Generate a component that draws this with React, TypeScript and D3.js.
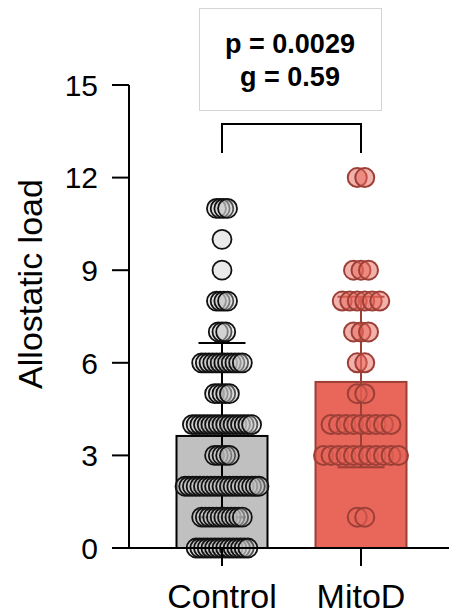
import React from "react";
import * as d3 from "d3";

const groups = ["Control", "MitoD"];
const scoreLevels = [0, 1, 2, 3, 4, 5, 6, 7, 8, 9, 10, 11, 12];
const controlCounts = [15, 12, 21, 5, 17, 5, 12, 3, 4, 1, 1, 4, 0];
const mitoDCounts = [0, 2, 0, 11, 9, 2, 2, 3, 6, 3, 0, 0, 2];
const groupMeans = [3.63, 5.38];
const upperErrors = [3.01, 2.76];
const lowerErrors = [2.63, 2.76];
const yTicks = [0, 3, 6, 9, 12, 15];
const statLines = ["p = 0.0029", "g = 0.59"];

const W = 449;
const H = 614;
const FONT = "'Liberation Sans', Arial, Helvetica, sans-serif";

const styles = [
  { barFill: "#c0c0c0", barStroke: "#000000", dotFill: "rgba(196,196,196,0.36)", dotStroke: "#111111", dotSW: 1.8, err: "#000000", spacing: 3.7 },
  { barFill: "#e8665a", barStroke: "#9c3f37", dotFill: "rgba(232,100,88,0.5)", dotStroke: "#9c3f37", dotSW: 2, err: "#9c3f37", spacing: 7.5 },
];

export default function App() {
  const y = d3.scaleLinear().domain([0, 15]).range([548, 85]);
  const x = d3.scalePoint<string>().domain(groups).range([222, 361]);
  const axisX = 129;
  const barW = 91;
  const capW = 47;
  const r = 9.5;
  const countsByGroup = [controlCounts, mitoDCounts];

  return (
    <svg width={W} height={H} style={{ position: "absolute", left: 0, top: 0 }} fontFamily={FONT}>
      <rect x={0} y={0} width={W} height={H} fill="#ffffff" />
      {/* stat box */}
      <rect x={199.5} y={8.5} width={182} height={102} fill="#ffffff" stroke="#d4d4d4" strokeWidth={1} />
      {statLines.map((t, i) => (
        <text key={t} x={290} y={53 + i * 33} textAnchor="middle" fontSize={27} fontWeight="bold" fill="#000">
          {t}
        </text>
      ))}
      {/* bracket */}
      <path
        d={`M${x("Control")},153 V124 H${x("MitoD")} V153`}
        fill="none"
        stroke="#000"
        strokeWidth={2}
      />
      {/* bars */}
      {groups.map((g, gi) => {
        const cx = x(g)!;
        const st = styles[gi];
        const m = groupMeans[gi];
        const hi = m + upperErrors[gi];
        const lo = m - lowerErrors[gi];
        return (
          <g key={g}>
            <rect
              x={cx - barW / 2}
              y={y(m)}
              width={barW}
              height={y(0) - y(m)}
              fill={st.barFill}
              stroke={st.barStroke}
              strokeWidth={2}
            />
            <line x1={cx} x2={cx} y1={y(lo)} y2={y(hi)} stroke={st.err} strokeWidth={2} />
            <line x1={cx - capW / 2} x2={cx + capW / 2} y1={y(hi)} y2={y(hi)} stroke={st.err} strokeWidth={2} />
            <line x1={cx - capW / 2} x2={cx + capW / 2} y1={y(lo)} y2={y(lo)} stroke={st.err} strokeWidth={2} />
          </g>
        );
      })}
      {/* dots */}
      {groups.map((g, gi) => {
        const cx = x(g)!;
        const st = styles[gi];
        const counts = countsByGroup[gi];
        const dots: React.ReactNode[] = [];
        scoreLevels.forEach((v, li) => {
          const n = counts[li];
          for (let i = 0; i < n; i++) {
            const dx = (i - (n - 1) / 2) * st.spacing;
            dots.push(
              <circle
                key={`${g}-${v}-${i}`}
                cx={cx + dx}
                cy={y(v)}
                r={r}
                fill={st.dotFill}
                stroke={st.dotStroke}
                strokeWidth={st.dotSW}
              />
            );
          }
        });
        return <g key={g + "dots"}>{dots}</g>;
      })}
      {/* y axis */}
      <line x1={axisX} x2={axisX} y1={y(15)} y2={y(0)} stroke="#000" strokeWidth={2} />
      {yTicks.map((t) => (
        <g key={t}>
          <line x1={axisX - 17} x2={axisX} y1={y(t)} y2={y(t)} stroke="#000" strokeWidth={2} />
          <text x={98} y={y(t)} dy="0.36em" textAnchor="end" fontSize={30} fill="#000">
            {t}
          </text>
        </g>
      ))}
      {/* x axis */}
      <line x1={axisX} x2={W} y1={y(0)} y2={y(0)} stroke="#000" strokeWidth={2} />
      {groups.map((g) => (
        <g key={g + "x"}>
          <line x1={x(g)!} x2={x(g)!} y1={y(0)} y2={y(0) + 18} stroke="#000" strokeWidth={2} />
          <text x={x(g)!} y={608} textAnchor="middle" fontSize={34} fill="#000">
            {g}
          </text>
        </g>
      ))}
      <text
        transform={`translate(42, 284) rotate(-90)`}
        textAnchor="middle"
        fontSize={34}
        fill="#000"
      >
        Allostatic load
      </text>
    </svg>
  );
}
